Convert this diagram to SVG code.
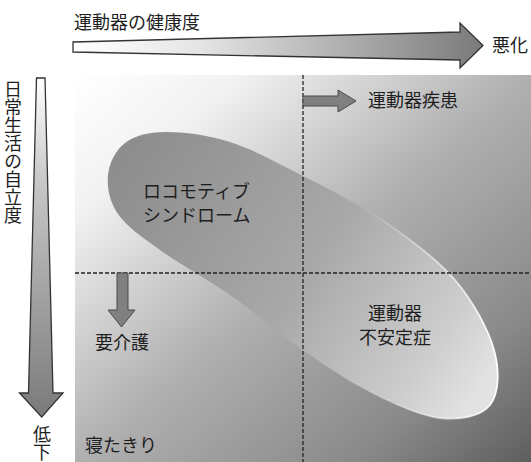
<svg xmlns="http://www.w3.org/2000/svg" width="531" height="462" viewBox="0 0 531 462">
  <defs>
    <linearGradient id="panelGrad" x1="0" y1="0" x2="1" y2="1">
      <stop offset="0" stop-color="#ffffff"/>
      <stop offset="0.18" stop-color="#f2f2f2"/>
      <stop offset="0.5" stop-color="#b0b0b0"/>
      <stop offset="0.8" stop-color="#8a8a8a"/>
      <stop offset="1" stop-color="#5e5e5e"/>
    </linearGradient>
    <linearGradient id="locoGrad" gradientUnits="userSpaceOnUse" x1="130" y1="160" x2="480" y2="390">
      <stop offset="0" stop-color="#8e8e8e"/>
      <stop offset="0.5" stop-color="#a8a8a8"/>
      <stop offset="0.85" stop-color="#cdcdcd"/>
      <stop offset="1" stop-color="#e2e2e2"/>
    </linearGradient>
    <linearGradient id="madsGrad" x1="0" y1="0" x2="1" y2="0">
      <stop offset="0" stop-color="#6e6e6e" stop-opacity="1"/>
      <stop offset="0.25" stop-color="#8c8c8c" stop-opacity="0.85"/>
      <stop offset="0.55" stop-color="#c4c4c4" stop-opacity="0.6"/>
      <stop offset="1" stop-color="#f2f2f2" stop-opacity="0.6"/>
    </linearGradient>
    <linearGradient id="rimGrad" gradientUnits="userSpaceOnUse" x1="360" y1="0" x2="500" y2="0">
      <stop offset="0" stop-color="#ffffff" stop-opacity="0"/>
      <stop offset="1" stop-color="#ffffff" stop-opacity="1"/>
    </linearGradient>
    <linearGradient id="hArrowGrad" x1="0" y1="0" x2="1" y2="0">
      <stop offset="0" stop-color="#ffffff"/>
      <stop offset="0.3" stop-color="#e6e6e6"/>
      <stop offset="1" stop-color="#7a7a7a"/>
    </linearGradient>
    <linearGradient id="vArrowGrad" x1="0" y1="0" x2="0" y2="1">
      <stop offset="0" stop-color="#ffffff"/>
      <stop offset="0.3" stop-color="#c8c8c8"/>
      <stop offset="1" stop-color="#7a7a7a"/>
    </linearGradient>
    <path id="locoShape" d="M108,175 C109.17,163.17 115.5,150.17 125,143 C134.5,135.83 147.5,132.17 165,132 C182.5,131.83 207,134.67 230,142 C253,149.33 277.17,162.67 303,176 C328.830,189.33 359.67,204.67 385,222 C410.33,239.33 436.83,258.67 455,280 C473.17,301.33 488.17,329.17 494,350 C499.83,370.83 499,393.67 490,405 C481,416.33 460,420.17 440,418 C420,415.83 392.83,403.33 370,392 C347.17,380.67 326.33,366.17 303,350 C279.67,333.83 253.83,311.67 230,295 C206.17,278.33 178.67,263.5 160,250 C141.33,236.5 126.67,226.5 118,214 C109.33,201.5 106.83,186.83 108,175 Z"/>
    <clipPath id="locoClip">
      <use href="#locoShape"/>
    </clipPath>
  </defs>
  <style>
    .lbl { font-family: "Noto Sans CJK JP", "Noto Sans", sans-serif; font-size: 18px; fill: #1e1e1e; }
    .vert { writing-mode: vertical-rl; }
    .dash { stroke: #222; stroke-width: 1.3; stroke-dasharray: 4 2; fill: none; }
    .bigArrow { stroke: #333; stroke-width: 1.3; stroke-linejoin: miter; }
    .smallArrow { fill: #808080; stroke: #4a4a4a; stroke-width: 1; }
  </style>

  <!-- background panel -->
  <rect id="panel" x="75" y="75" width="456" height="387" fill="url(#panelGrad)"/>

  <!-- axes -->
  <g id="axis-x">
    <polygon class="bigArrow" fill="url(#hArrowGrad)" points="73,42 460,32 460,23 483,45.5 460,68 460,60 73,52"/>
    <text class="lbl" x="74" y="29">運動器の健康度</text>
    <text class="lbl" x="492" y="52">悪化</text>
  </g>
  <g id="axis-y">
    <polygon class="bigArrow" fill="url(#vArrowGrad)" points="36.5,78 45,78 53,393 63,393 41.7,417 19.5,393 28.5,393"/>
    <text class="lbl vert" x="13" y="80">日常生活の自立度</text>
    <text class="lbl vert" x="42" y="425">低下</text>
  </g>

  <!-- locomotive syndrome area -->
  <g id="locomotive-syndrome">
    <use href="#locoShape" fill="url(#locoGrad)"/>
    <text class="lbl" x="143" y="198">ロコモティブ</text>
    <text class="lbl" x="143" y="222">シンドローム</text>
  </g>
  <!-- musculoskeletal ambulation disability symptom complex -->
  <g id="mads">
    <ellipse cx="0" cy="0" rx="122" ry="85" transform="translate(405,318) rotate(36)" fill="url(#madsGrad)" clip-path="url(#locoClip)"/>
    <use href="#locoShape" fill="none" stroke="url(#rimGrad)" stroke-width="1.8"/>
    <text class="lbl" x="395" y="320" text-anchor="middle">運動器</text>
    <text class="lbl" x="395" y="344" text-anchor="middle">不安定症</text>
  </g>

  <!-- connectors: dashed quadrant lines and small arrows -->
  <g id="connectors">
    <line class="dash" x1="303" y1="75" x2="303" y2="462"/>
    <line class="dash" x1="75" y1="273" x2="531" y2="273"/>
    <polygon class="smallArrow" points="303,96 338,96 338,90 356,101 338,112 338,106 303,106"/>
    <polygon class="smallArrow" points="117,273 128,273 128,310 135,310 121.5,327 108,310 117,310"/>
  </g>

  <g id="motor-disease">
    <text class="lbl" x="368" y="107">運動器疾患</text>
  </g>
  <g id="care-needed">
    <text class="lbl" x="95" y="349">要介護</text>
  </g>
  <g id="bedridden">
    <text class="lbl" x="85" y="452">寝たきり</text>
  </g>
</svg>
